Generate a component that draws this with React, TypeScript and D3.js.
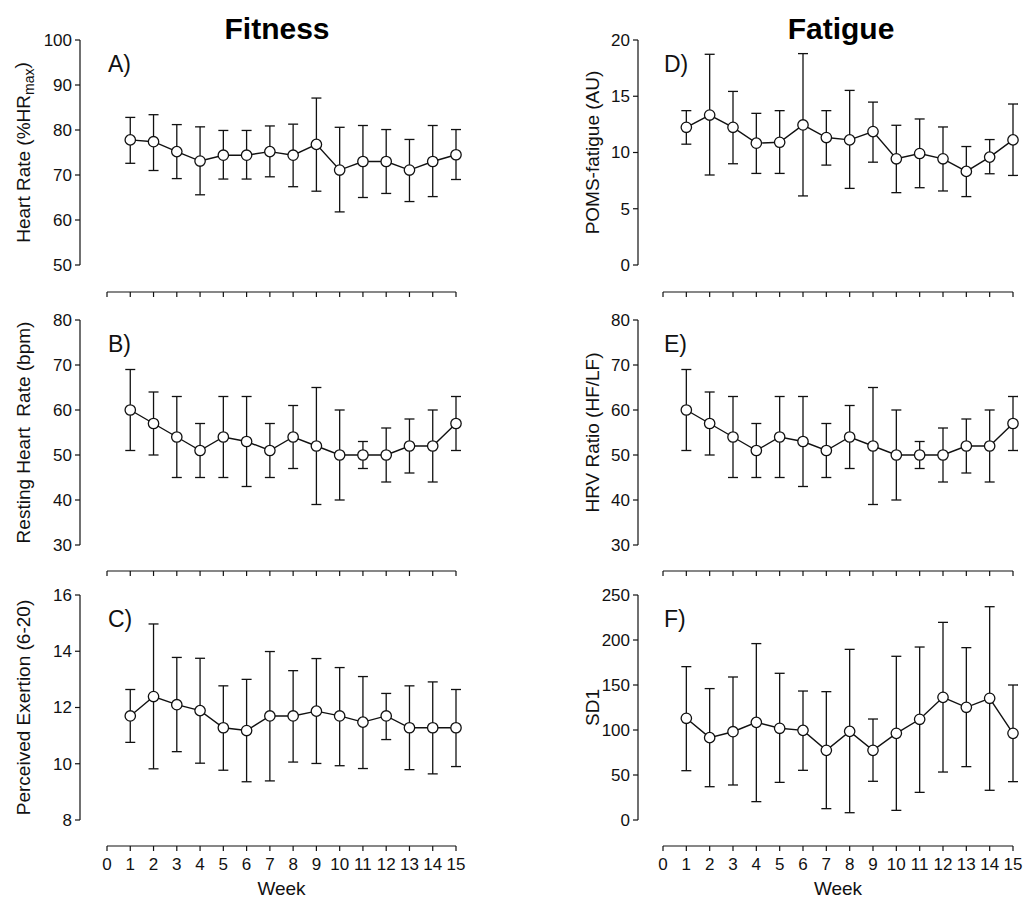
import React from "react";
import * as d3 from "d3";

const weeks = [1, 2, 3, 4, 5, 6, 7, 8, 9, 10, 11, 12, 13, 14, 15];
const xTicks = d3.range(0, 16);

const meanA = [77.8, 77.4, 75.2, 73.1, 74.4, 74.4, 75.2, 74.4, 76.8, 71.1, 73.0, 73.0, 71.1, 73.0, 74.5];
const upperA = [82.8, 83.4, 81.2, 80.7, 79.9, 79.9, 80.9, 81.3, 87.1, 80.6, 81.0, 80.1, 77.9, 81.0, 80.1];
const lowerA = [72.6, 71.0, 69.2, 65.6, 69.1, 69.1, 69.6, 67.4, 66.4, 61.8, 65.0, 65.9, 64.1, 65.2, 69.0];
const ticksA = [50, 60, 70, 80, 90, 100];

const meanB = [60, 57, 54, 51, 54, 53, 51, 54, 52, 50, 50, 50, 52, 52, 57];
const upperB = [69, 64, 63, 57, 63, 63, 57, 61, 65, 60, 53, 56, 58, 60, 63];
const lowerB = [51, 50, 45, 45, 45, 43, 45, 47, 39, 40, 47, 44, 46, 44, 51];
const ticksB = [30, 40, 50, 60, 70, 80];

const meanC = [11.7, 12.39, 12.1, 11.89, 11.28, 11.18, 11.7, 11.7, 11.87, 11.7, 11.48, 11.7, 11.28, 11.28, 11.28];
const upperC = [12.64, 14.97, 13.78, 13.75, 12.77, 13.0, 13.99, 13.31, 13.74, 13.42, 13.1, 12.5, 12.77, 12.91, 12.64];
const lowerC = [10.76, 9.82, 10.43, 10.02, 9.77, 9.36, 9.39, 10.06, 10.01, 9.93, 9.83, 10.86, 9.79, 9.64, 9.9];
const ticksC = [8, 10, 12, 14, 16];

const meanD = [12.24, 13.33, 12.24, 10.83, 10.91, 12.45, 11.33, 11.12, 11.86, 9.44, 9.91, 9.44, 8.32, 9.59, 11.12];
const upperD = [13.72, 18.73, 15.43, 13.48, 13.72, 18.79, 13.72, 15.52, 14.48, 12.42, 12.98, 12.27, 10.53, 11.15, 14.31];
const lowerD = [10.74, 8.0, 9.0, 8.14, 8.14, 6.14, 8.88, 6.81, 9.14, 6.43, 6.87, 6.58, 6.08, 8.11, 7.96];
const ticksD = [0, 5, 10, 15, 20];

const meanE = [60, 57, 54, 51, 54, 53, 51, 54, 52, 50, 50, 50, 52, 52, 57];
const upperE = [69, 64, 63, 57, 63, 63, 57, 61, 65, 60, 53, 56, 58, 60, 63];
const lowerE = [51, 50, 45, 45, 45, 43, 45, 47, 39, 40, 47, 44, 46, 44, 51];
const ticksE = [30, 40, 50, 60, 70, 80];

const meanF = [113, 91.5, 98.1, 108.5, 101.9, 99.6, 77.4, 98.5, 77.4, 96.3, 111.9, 136.3, 125.2, 135.2, 96.3];
const upperF = [170.4, 146, 158.9, 196, 163, 143.3, 142.6, 189.6, 112.2, 181.9, 192.2, 219.6, 191.5, 237, 150];
const lowerF = [54.8, 37, 38.9, 20.4, 41.8, 55.2, 12.6, 8.1, 43, 10.7, 30.7, 53.3, 59.3, 33, 42.6];
const ticksF = [0, 50, 100, 150, 200, 250];

const FONT = "'Liberation Sans', Arial, Helvetica, sans-serif";

type PanelProps = {
  letter: string;
  label: React.ReactNode;
  mean: number[];
  upper: number[];
  lower: number[];
  ticks: number[];
  yAxisX: number;
  x0: number;
  x1: number;
  top: number;
  bottom: number;
  xAxisY: number;
  labelX: number;
  showXLabels: boolean;
};

function Panel(p: PanelProps) {
  const ext = d3.extent(p.ticks) as [number, number];
  const y = d3.scaleLinear().domain(ext).range([p.bottom, p.top]);
  const x = d3.scaleLinear().domain([0, 15]).range([p.x0, p.x1]);
  const line = d3
    .line<number>()
    .x((_, i) => x(weeks[i]))
    .y((d) => y(d));
  const cap = 5;
  return (
    <g>
      {/* y axis */}
      <line x1={p.yAxisX} x2={p.yAxisX} y1={y(ext[0])} y2={y(ext[1])} stroke="#111" strokeWidth={1.2} />
      {p.ticks.map((t) => (
        <g key={t}>
          <line x1={p.yAxisX - 5} x2={p.yAxisX} y1={y(t)} y2={y(t)} stroke="#111" strokeWidth={1.2} />
          <text x={p.yAxisX - 8} y={y(t)} dy="0.35em" textAnchor="end" fontSize={17} fontFamily={FONT} fill="#111">
            {t}
          </text>
        </g>
      ))}
      {/* y label */}
      <text
        transform={`translate(${p.labelX},${(p.top + p.bottom) / 2}) rotate(-90)`}
        textAnchor="middle"
        dy="0.35em"
        fontSize={19}
        fontFamily={FONT}
        fill="#111"
        style={{ whiteSpace: "pre" }}
      >
        {p.label}
      </text>
      {/* x axis */}
      <line x1={x(0)} x2={x(15)} y1={p.xAxisY} y2={p.xAxisY} stroke="#111" strokeWidth={1.2} />
      {xTicks.map((t) => (
        <g key={t}>
          <line x1={x(t)} x2={x(t)} y1={p.xAxisY} y2={p.xAxisY + 5} stroke="#111" strokeWidth={1.2} />
          {p.showXLabels && (
            <text x={x(t)} y={p.xAxisY + 24} textAnchor="middle" fontSize={17} fontFamily={FONT} fill="#111">
              {t}
            </text>
          )}
        </g>
      ))}
      {p.showXLabels && (
        <text x={(x(0) + x(15)) / 2} y={p.xAxisY + 49} textAnchor="middle" fontSize={19} fontFamily={FONT} fill="#111">
          Week
        </text>
      )}
      {/* panel letter */}
      <text x={p.x0 + 1} y={p.top + 32} fontSize={23} fontFamily={FONT} fill="#111">
        {p.letter}
      </text>
      {/* error bars */}
      {weeks.map((w, i) => (
        <g key={w} stroke="#111" strokeWidth={1.3}>
          <line x1={x(w)} x2={x(w)} y1={y(p.upper[i])} y2={y(p.lower[i])} />
          <line x1={x(w) - cap} x2={x(w) + cap} y1={y(p.upper[i])} y2={y(p.upper[i])} />
          <line x1={x(w) - cap} x2={x(w) + cap} y1={y(p.lower[i])} y2={y(p.lower[i])} />
        </g>
      ))}
      <path d={line(p.mean) || ""} fill="none" stroke="#111" strokeWidth={1.4} />
      {weeks.map((w, i) => (
        <circle key={w} cx={x(w)} cy={y(p.mean[i])} r={5.2} fill="#fff" stroke="#111" strokeWidth={1.3} />
      ))}
    </g>
  );
}

export default function App() {
  const left = { yAxisX: 80, x0: 107, x1: 456, labelX: 23 };
  const right = { yAxisX: 638, x0: 663, x1: 1013, labelX: 592 };
  const rows = [
    { top: 40, bottom: 265, xAxisY: 292 },
    { top: 320, bottom: 545, xAxisY: 571 },
    { top: 595, bottom: 820, xAxisY: 846 },
  ];
  return (
    <svg
      width={1024}
      height={899}
      style={{ position: "absolute", left: 0, top: 0, background: "#fff" }}
    >
      <rect width={1024} height={899} fill="#fff" />
      <text x={277} y={39} textAnchor="middle" fontSize={30} fontWeight="bold" fontFamily={FONT} fill="#000">
        Fitness
      </text>
      <text x={841} y={39} textAnchor="middle" fontSize={30} fontWeight="bold" fontFamily={FONT} fill="#000">
        Fatigue
      </text>
      <Panel
        {...left}
        {...rows[0]}
        letter="A)"
        label={
          <>
            Heart Rate (%HR
            <tspan fontSize={14} dy="0.3em">max</tspan>
            <tspan dy="-0.3em">)</tspan>
          </>
        }
        mean={meanA}
        upper={upperA}
        lower={lowerA}
        ticks={ticksA}
        showXLabels={false}
      />
      <Panel
        {...left}
        {...rows[1]}
        letter="B)"
        label={"Resting Heart  Rate (bpm)"}
        mean={meanB}
        upper={upperB}
        lower={lowerB}
        ticks={ticksB}
        showXLabels={false}
      />
      <Panel
        {...left}
        {...rows[2]}
        letter="C)"
        label={"Perceived Exertion (6-20)"}
        mean={meanC}
        upper={upperC}
        lower={lowerC}
        ticks={ticksC}
        showXLabels={true}
      />
      <Panel
        {...right}
        {...rows[0]}
        letter="D)"
        label={"POMS-fatigue (AU)"}
        mean={meanD}
        upper={upperD}
        lower={lowerD}
        ticks={ticksD}
        showXLabels={false}
      />
      <Panel
        {...right}
        {...rows[1]}
        letter="E)"
        label={"HRV Ratio (HF/LF)"}
        mean={meanE}
        upper={upperE}
        lower={lowerE}
        ticks={ticksE}
        showXLabels={false}
      />
      <Panel
        {...right}
        {...rows[2]}
        letter="F)"
        label={"SD1"}
        mean={meanF}
        upper={upperF}
        lower={lowerF}
        ticks={ticksF}
        showXLabels={true}
      />
    </svg>
  );
}
